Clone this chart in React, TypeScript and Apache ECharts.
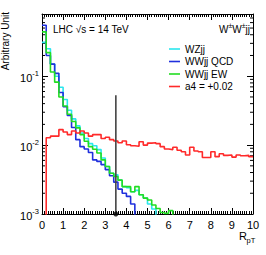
import React, { useEffect, useRef } from "react";
import * as echarts from "echarts";

const binWidth = 0.2;
const seriesNames = ["WZjj", "WWjj QCD", "WWjj EW", "a4 = +0.02"];
const seriesColors = ["#2ae6ee", "#2030dd", "#22dd22", "#ff2a2a"];

// bin contents, bins of 0.2 starting at 0
const wzjj = [0.31, 0.25, 0.15, 0.10, 0.069, 0.046, 0.032, 0.024, 0.019, 0.015, 0.0125, 0.0105, 0.0098, 0.0086, 0.0065, 0.0049, 0.0039, 0.0037, 0.0031, 0.0025, 0.0024, 0.0021, 0.0022, 0.0019, 0.0017, 0.0014, 0.00118, 0, 0, 0, 0, 0, 0, 0, 0, 0, 0, 0, 0, 0, 0, 0, 0, 0, 0, 0, 0, 0, 0, 0];
const wwQcd = [0.55, 0.20, 0.15, 0.11, 0.058, 0.036, 0.027, 0.018, 0.012, 0.0095, 0.0088, 0.0078, 0.0061, 0.0058, 0.0052, 0.0044, 0.0036, 0.0029, 0.0023, 0.0020, 0.0018, 0.0014, 0, 0, 0, 0, 0, 0, 0, 0, 0, 0, 0, 0, 0, 0, 0, 0, 0, 0, 0, 0, 0, 0, 0, 0, 0, 0, 0, 0];
const wwEw = [0.44, 0.22, 0.115, 0.082, 0.050, 0.037, 0.028, 0.022, 0.0178, 0.0142, 0.0114, 0.0095, 0.0087, 0.0077, 0.0061, 0.0049, 0.0039, 0.0035, 0.0031, 0.0025, 0.0025, 0.0021, 0.0025, 0.0019, 0.0017, 0.0016, 0.00135, 0.0012, 0.00105, 0.00102, 0.00112, 0, 0, 0, 0, 0, 0, 0, 0, 0, 0, 0, 0, 0, 0, 0, 0, 0, 0, 0];
const a4 = [0, 0.0128, 0.0135, 0.0135, 0.0168, 0.0155, 0.0142, 0.0160, 0.0150, 0.0160, 0.0150, 0.0135, 0.0142, 0.0142, 0.0125, 0.0130, 0.0120, 0.0115, 0.0108, 0.0115, 0.0101, 0.0098, 0.0096, 0.0112, 0.0100, 0.0107, 0.0108, 0.0105, 0.0095, 0.0088, 0.0086, 0.0093, 0.0084, 0.0080, 0.0072, 0.0093, 0.0082, 0.0080, 0.0066, 0.0066, 0.0080, 0.0068, 0.0075, 0.0071, 0.0072, 0.0067, 0.0072, 0.0070, 0.0071, 0.0068];

const cutValue = 3.5;
const cutTop = 0.053;
const xMin = 0;
const xMax = 10;
const yMin = 0.001;
const yMax = 0.8;

const FONT = "Liberation Sans";

function steps(vals: number[]) {
  const pts: number[][] = [];
  vals.forEach((v, i) => {
    const x0 = xMin + i * binWidth;
    const x1 = x0 + binWidth;
    const y = v > 0 ? v : 1e-5;
    pts.push([x0, y], [x1, y]);
  });
  return pts;
}

const minorY: number[] = [];
for (let e = -3; e <= -1; e++) {
  for (let m = 2; m <= 9; m++) {
    const v = m * Math.pow(10, e);
    if (v < yMax) minorY.push(v);
  }
}

export default function App() {
  const ref = useRef<HTMLDivElement>(null);
  useEffect(() => {
    if (!ref.current) return;
    const chart = echarts.init(ref.current, null, { renderer: "svg" });
    const xAxisBase = {
      type: "value",
      min: xMin,
      max: xMax,
      interval: 1,
      axisLine: { show: true, onZero: false, lineStyle: { color: "#000", width: 1 } },
      axisTick: { show: true, inside: true, length: 6, lineStyle: { color: "#000", width: 1 } },
      minorTick: { show: true, splitNumber: 10, length: 3, lineStyle: { color: "#000", width: 1 } },
      splitLine: { show: false },
    };
    const yAxisBase = {
      type: "log",
      logBase: 10,
      min: yMin,
      max: yMax,
      axisLine: { show: true, onZero: false, lineStyle: { color: "#000", width: 1 } },
      axisTick: { show: true, inside: true, length: 6, lineStyle: { color: "#000", width: 1 } },
      minorTick: { show: false },
      splitLine: { show: false },
    };
    const histSeries = [wzjj, wwQcd, wwEw, a4].map((vals, k) => ({
      name: seriesNames[k],
      type: "line",
      data: steps(vals),
      symbol: "none",
      color: seriesColors[k],
      lineStyle: { color: seriesColors[k], width: 1.6 },
      clip: true,
      z: 3,
    }));
    chart.setOption({
      animation: false,
      grid: { left: 42, right: 13, top: 14, bottom: 41, containLabel: false },
      legend: {
        data: seriesNames,
        orient: "vertical",
        left: 164,
        top: 38,
        icon: "rect",
        itemWidth: 11,
        itemHeight: 1.6,
        itemGap: 0.5,
        textStyle: { fontSize: 10, fontFamily: FONT, color: "#000", lineHeight: 12 },
      },
      xAxis: [
        {
          ...xAxisBase,
          position: "bottom",
          axisLabel: { show: true, margin: 5, color: "#000", fontSize: 11, fontFamily: FONT },
        },
        { ...xAxisBase, position: "top", axisLabel: { show: false } },
      ],
      yAxis: [
        {
          ...yAxisBase,
          position: "left",
          axisLabel: {
            show: true,
            showMaxLabel: false,
            margin: 3,
            formatter: (v: number) => `{b|10}{s|${Math.round(Math.log10(v))}}`,
            rich: {
              b: { fontSize: 11, fontFamily: FONT, color: "#000", lineHeight: 14, verticalAlign: "bottom" },
              s: { fontSize: 7.5, fontFamily: FONT, color: "#000", lineHeight: 14, verticalAlign: "top" },
            },
          },
        },
        { ...yAxisBase, position: "right", axisLabel: { show: false } },
      ],
      series: [
        ...histSeries,
        {
          name: "cut",
          type: "line",
          data: [[cutValue, 1e-5], [cutValue, cutTop]],
          symbol: "none",
          lineStyle: { color: "#444", width: 1.6 },
          z: 4,
        },
        {
          name: "cutpoint",
          type: "scatter",
          data: [[cutValue, yMin]],
          symbol: "circle",
          symbolSize: 5,
          itemStyle: { color: "#000" },
          z: 5,
        },
        {
          name: "minorY",
          type: "custom",
          data: minorY.map((v) => [xMin, v]),
          silent: true,
          clip: false,
          renderItem: (_p: any, api: any) => {
            const v = api.value(1);
            const l = api.coord([xMin, v]);
            const r = api.coord([xMax, v]);
            return {
              type: "group",
              children: [
                { type: "line", shape: { x1: l[0], y1: l[1], x2: l[0] + 3, y2: l[1] }, style: { stroke: "#000", lineWidth: 1 } },
                { type: "line", shape: { x1: r[0] - 3, y1: r[1], x2: r[0], y2: r[1] }, style: { stroke: "#000", lineWidth: 1 } },
              ],
            };
          },
        },
      ],
      graphic: [
        {
          type: "text",
          x: 5,
          y: 12,
          rotation: Math.PI / 2,
          style: { text: "Arbitrary Unit", fontSize: 10, fontFamily: FONT, fill: "#000", align: "right", verticalAlign: "middle" },
        },
        {
          type: "text",
          x: 53,
          y: 29,
          style: { text: "LHC √s = 14 TeV", fontSize: 10, fontFamily: FONT, fill: "#000", align: "left", verticalAlign: "middle" },
        },
        {
          type: "text",
          x: 250,
          y: 28,
          style: {
            text: "{n|W}{p|±}{n|W}{p|±}{n|jj}",
            align: "right",
            verticalAlign: "middle",
            rich: {
              n: { fontSize: 10, fontFamily: FONT, fill: "#000", lineHeight: 13, verticalAlign: "bottom" },
              p: { fontSize: 7, fontFamily: FONT, fill: "#000", lineHeight: 13, verticalAlign: "top" },
            },
          },
        },
        {
          type: "text",
          x: 239,
          y: 236,
          style: { text: "R", fontSize: 11, fontFamily: FONT, fill: "#000", align: "left", verticalAlign: "middle" },
        },
        {
          type: "text",
          x: 246.5,
          y: 240.5,
          style: { text: "pT", fontSize: 7.5, fontFamily: FONT, fill: "#000", align: "left", verticalAlign: "middle" },
        },
      ],
    });
    return () => chart.dispose();
  }, []);
  return <div ref={ref} style={{ position: "fixed", left: 0, top: 0, width: 266, height: 255, background: "#fff" }} />;
}
